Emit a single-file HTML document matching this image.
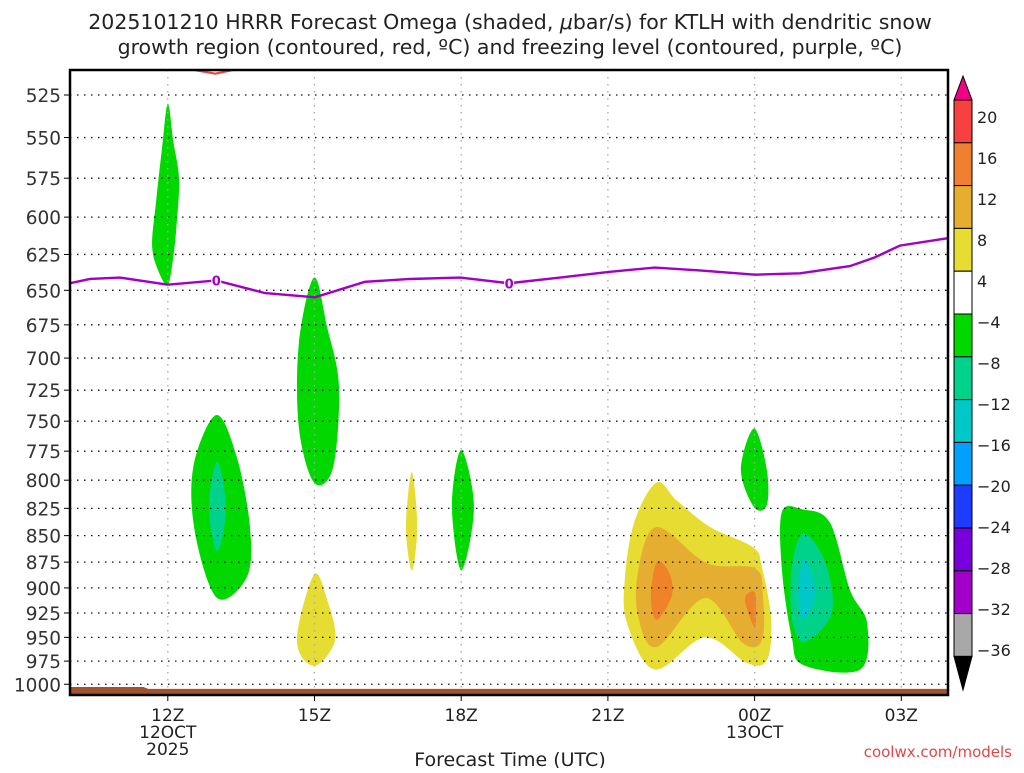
<!DOCTYPE html>
<html><head><meta charset="utf-8">
<style>
html,body{margin:0;padding:0;background:#fff;}
svg text{font-family:"DejaVu Sans","Liberation Sans",sans-serif;}
</style></head>
<body>
<svg id="chart" width="1024" height="768" viewBox="0 0 1024 768" xmlns="http://www.w3.org/2000/svg">
<text x="510" y="29" font-size="20.5" text-anchor="middle" fill="#222">2025101210 HRRR Forecast Omega (shaded, <tspan font-style="italic">μ</tspan>bar/s) for KTLH with dendritic snow</text>
<text x="510" y="54" font-size="20.5" text-anchor="middle" fill="#222">growth region (contoured, red, ºC) and freezing level (contoured, purple, ºC)</text>
<g id="plot"></g>
<g id="axes"></g>
<g id="cbar"></g>
<text x="510" y="766" font-size="19" text-anchor="middle" fill="#222">Forecast Time (UTC)</text>
<text x="1012" y="757" font-size="15" text-anchor="end" fill="#e04848" font-family="Liberation Mono, monospace">coolwx.com/models</text>
</svg>
<script>
// ---- data ----
const pressureTicks=[525,550,575,600,625,650,675,700,725,750,775,800,825,850,875,900,925,950,975,1000];
const hourTicks=[12,15,18,21,24,27];
const hourLabels=["12Z","15Z","18Z","21Z","00Z","03Z"];
const dateLabels={12:["12OCT","2025"],24:["13OCT"]};
const cbarLevels=["20","16","12","8","4","\u22124","\u22128","\u221212","\u221216","\u221220","\u221224","\u221228","\u221232","\u221236"];
const cbarColors=["#f84040","#f08030","#e6ae30","#e6dc32","#ffffff","#00d800","#00d28c","#00c8c8","#00a0ff","#1e3cff","#7800dc","#a000c8","#a8a8a8"];
const freezeHours=[10,10.41,11.02,12.0,12.99,13.99,15.01,16.03,16.95,17.98,18.98,20.02,21.04,21.96,22.88,24.01,24.93,25.95,26.46,26.97,27.95];
const freezePres=[645,642,641,646,643,652,655,644,642,641,645,641,637,634,636,639,638,633,627,619,614];
const dgzHours=[12.31,12.97,13.74];
const dgzPres=[509.7,512.9,508.5];
const terrainHours=[10,11.5,11.6,28];
const terrainPres=[1003,1003,1005,1005];
// shaded omega regions: [color, hours[], pressures[]]
const regions=[
 ["#00d800",[12.0,12.11,12.23,12.17,12.09,12.0,11.84,11.68,11.76,11.88],[530,552,576,609,632,646,639,620,590,557]],
 ["#00d800",[12.99,12.52,12.56,13.01,13.62,13.68,13.41],[745,789,848,910,889,842,780]],
 ["#00d28c",[13.01,12.84,13.01,13.19],[784,824,865,825]],
 ["#00d800",[14.99,14.68,14.68,14.99,15.38,15.50,15.26],[641,689,755,802,789,722,677]],
 ["#e6dc32",[14.99,14.64,14.99,15.42,15.26],[887,953,980,953,912]],
 ["#e6dc32",[16.99,16.87,16.99,17.10],[793,842,883,842]],
 ["#00d800",[18.0,17.81,18.0,18.26],[774,822,883,824]],
 ["#00d800",[23.99,23.72,23.99,24.25,24.25],[756,791,824,822,791]],
 ["#e6dc32",[22.0,21.55,21.35,21.39,21.96,22.99,23.84,24.25,24.34,24.15,23.97,23.09,22.41],[802,836,889,935,984,950,977,974,932,880,861,842,818]],
 ["#e6ae30",[22.0,21.62,21.62,22.0,22.99,23.76,24.15,24.17,24.01,23.03],[842,883,929,960,910,956,953,909,881,876]],
 ["#f08228",[22.0,21.88,22.0,22.31,22.25],[875,909,932,907,885]],
 ["#f08228",[24.0,23.80,24.0,24.03],[904,911,940,922]],
 ["#00d800",[24.56,24.99,25.54,25.95,26.30,26.16,24.99,24.76,24.56],[828,826,838,902,935,984,979,950,883]],
 ["#00d28c",[24.99,24.76,24.76,24.99,25.48,25.60,25.40],[848,880,929,955,935,909,870]],
 ["#00c8c8",[24.99,24.89,24.99,25.24,25.13],[873,905,932,907,883]]
];
// ---- scales ----
const X0=70,X1=948,Y0=70,Y1=695;
const xs=h=>70+(h-10)*48.9;
const ys=p=>95+914.5*Math.log(p/525);
const NS="http://www.w3.org/2000/svg";
function mk(tag,attrs,parent){const e=document.createElementNS(NS,tag);for(const k in attrs)e.setAttribute(k,attrs[k]);parent.appendChild(e);return e;}
function smoothClosed(pts){
 const n=pts.length;let d=`M${pts[0][0]},${pts[0][1]}`;
 for(let i=0;i<n;i++){const p0=pts[(i-1+n)%n],p1=pts[i],p2=pts[(i+1)%n],p3=pts[(i+2)%n];
  d+=` C${p1[0]+(p2[0]-p0[0])/6},${p1[1]+(p2[1]-p0[1])/6} ${p2[0]-(p3[0]-p1[0])/6},${p2[1]-(p3[1]-p1[1])/6} ${p2[0]},${p2[1]}`;}
 return d+'Z';
}
const plot=document.getElementById('plot'),axes=document.getElementById('axes'),cbar=document.getElementById('cbar');
const defs=mk('defs',{},plot);const cp=mk('clipPath',{id:'clip'},defs);mk('rect',{x:X0,y:Y0,width:X1-X0,height:Y1-Y0},cp);
const g=mk('g',{'clip-path':'url(#clip)'},plot);
regions.forEach((r,i)=>{
 const pts=r[1].map((h,j)=>[xs(h),ys(r[2][j])]);
 const el=mk('path',{d:smoothClosed(pts),fill:r[0]},g);
 
 
});
// grid
pressureTicks.forEach(p=>{
 const el=mk('line',{x1:X0,x2:X1,y1:ys(p),y2:ys(p),stroke:'#111','stroke-width':1.3,'stroke-dasharray':'1.5 5.5'},g);
 
 
});
hourTicks.forEach(h=>{
 const el=mk('line',{x1:xs(h),x2:xs(h),y1:Y0,y2:Y1,stroke:'#aaa','stroke-width':1.3,'stroke-dasharray':'1.5 5.5'},g);
 
 
});
// terrain
{const pts=terrainHours.map((h,i)=>`${xs(h)},${ys(terrainPres[i])}`);
 const el=mk('polygon',{points:pts.join(' ')+` ${xs(28)},${Y1} ${xs(10)},${Y1}`,fill:'#a0522d'},g);
 
 }
// dgz contour
{const el=mk('polyline',{points:dgzHours.map((h,i)=>`${xs(h)},${ys(dgzPres[i])}`).join(' '),fill:'none',stroke:'#f04040','stroke-width':2.2},g);
 
 }
// freezing level
{const el=mk('polyline',{points:freezeHours.map((h,i)=>`${xs(h)},${ys(freezePres[i])}`).join(' '),fill:'none',stroke:'#a000c8','stroke-width':2.4},g);
 
 
 [12.99,18.98].forEach(h=>{
  const i=freezeHours.indexOf(h);const x=xs(h),y=ys(freezePres[i]);
  mk('rect',{x:x-5,y:y-8,width:10,height:14,fill:'#fff'},g);
  const t=mk('text',{x:x,y:y+5,'font-size':13,'font-weight':'bold','text-anchor':'middle',fill:'#a000c8'},g);t.textContent='0';
  
  
 });}
// frame
mk('rect',{x:X0,y:Y0,width:X1-X0,height:Y1-Y0,fill:'none',stroke:'#000','stroke-width':2.5},axes);
// y ticks
pressureTicks.forEach(p=>{
 mk('line',{x1:X0-6,x2:X0,y1:ys(p),y2:ys(p),stroke:'#000','stroke-width':1},axes);
 const t=mk('text',{x:61,y:ys(p)+7,'font-size':18.5,'text-anchor':'end',fill:'#333'},axes);t.textContent=p;
 
 
});
hourTicks.forEach((h,i)=>{
 mk('line',{x1:xs(h),x2:xs(h),y1:Y1,y2:Y1+6,stroke:'#000','stroke-width':1},axes);
 const t=mk('text',{x:xs(h),y:721,'font-size':17,'text-anchor':'middle',fill:'#222'},axes);t.textContent=hourLabels[i];
 
 
 (dateLabels[h]||[]).forEach((s,k)=>{const d=mk('text',{x:xs(h),y:738+k*17,'font-size':17,'text-anchor':'middle',fill:'#222'},axes);d.textContent=s;
  
  });
});
// colorbar
const CX=954,CW=18,CT=100,CH=42.8;
mk('polygon',{points:`${CX},${CT} ${CX+CW},${CT} ${CX+CW/2},${76}`,fill:'#f00082',stroke:'#000','stroke-width':1},cbar);
cbarColors.forEach((c,i)=>{
 const el=mk('rect',{x:CX,y:CT+i*CH,width:CW,height:CH,fill:c,stroke:'#000','stroke-width':1},cbar);
 
 
});
const CB=CT+cbarColors.length*CH;
mk('polygon',{points:`${CX},${CB} ${CX+CW},${CB} ${CX+CW/2},${690}`,fill:'#000',stroke:'#000','stroke-width':1},cbar);
cbarLevels.forEach((s,i)=>{
 const y=117+i*(533/13);
 const t=mk('text',{x:977,y:y+6,'font-size':16,fill:'#222'},cbar);t.textContent=s;
 
 
});
</script>
</body></html>
